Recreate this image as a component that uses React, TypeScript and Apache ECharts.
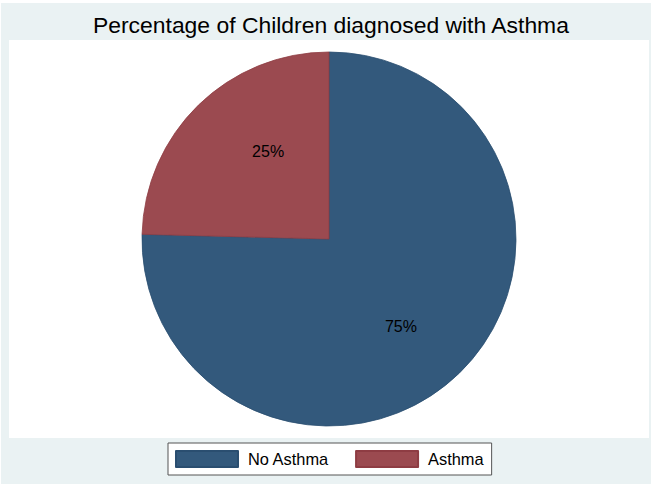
import React, { useEffect, useRef } from "react";
import * as echarts from "echarts";

// Share of children with / without an asthma diagnosis (percent)
const categories = ["No Asthma", "Asthma"];
const shares = [75.4, 24.6];
const sliceColors = ["#33597C", "#9B4A50"];
const sliceEdges = ["#2A4E70", "#8E3C43"];
const titleText = "Percentage of Children diagnosed with Asthma";

// small nudges applied to each percentage label after layout
const labelNudges = [
  { dx: -7, dy: 7 },
  { dx: 18, dy: -7 },
];

const FONT = "'Liberation Sans', Arial, Helvetica, sans-serif";

export default function App() {
  const ref = useRef<HTMLDivElement>(null);

  useEffect(() => {
    if (!ref.current) return;
    const chart = echarts.init(ref.current, undefined, { renderer: "svg" });

    const pieData = categories.map((name, i) => ({
      name,
      value: shares[i],
      itemStyle: { color: sliceColors[i], borderColor: sliceEdges[i], borderWidth: 0.8 },
    }));

    chart.setOption({
      animation: false,
      backgroundColor: "#ffffff",
      graphic: [
        {
          type: "rect",
          silent: true,
          z: -10,
          shape: { x: 1, y: 3, width: 652, height: 482 },
          style: { fill: "#EAF2F3" },
        },
        {
          type: "rect",
          silent: true,
          z: -9,
          shape: { x: 9, y: 40, width: 640, height: 398 },
          style: { fill: "#ffffff" },
        },
      ],
      title: {
        text: titleText,
        left: 93,
        top: 13,
        padding: 0,
        textStyle: {
          fontFamily: FONT,
          fontSize: 22.9,
          fontWeight: "normal",
          color: "#000000",
        },
      },
      legend: {
        data: categories,
        orient: "horizontal",
        left: 168,
        top: 443,
        padding: [7, 8, 7, 7],
        itemGap: 26,
        itemWidth: 62,
        itemHeight: 16,
        icon: "rect",
        backgroundColor: "#ffffff",
        borderColor: "#555555",
        borderWidth: 1,
        selectedMode: false,
        textStyle: {
          fontFamily: FONT,
          fontSize: 16.4,
          color: "#000000",
          padding: [0, 0, 0, 5],
        },
      },
      series: [
        {
          type: "pie",
          center: [329, 239],
          radius: 187,
          startAngle: 90,
          clockwise: true,
          silent: true,
          label: { show: false },
          labelLine: { show: false },
          data: pieData,
        },
        {
          // same shares, drawn invisibly, to carry the percentage labels
          type: "pie",
          center: [329, 239],
          radius: [100, 120],
          startAngle: 90,
          clockwise: true,
          silent: true,
          itemStyle: { color: "rgba(0,0,0,0)" },
          label: {
            show: true,
            position: "inside",
            fontFamily: FONT,
            fontSize: 16,
            color: "#000000",
            formatter: (p: any) => `${Math.round(p.percent)}%`,
          },
          labelLayout: (params: any) => labelNudges[params.dataIndex] || {},
          labelLine: { show: false },
          data: categories.map((name, i) => ({ name, value: shares[i] })),
        },
      ],
    });

    return () => chart.dispose();
  }, []);

  return (
    <div
      ref={ref}
      style={{ position: "fixed", left: 0, top: 0, width: 651, height: 484 }}
    />
  );
}
